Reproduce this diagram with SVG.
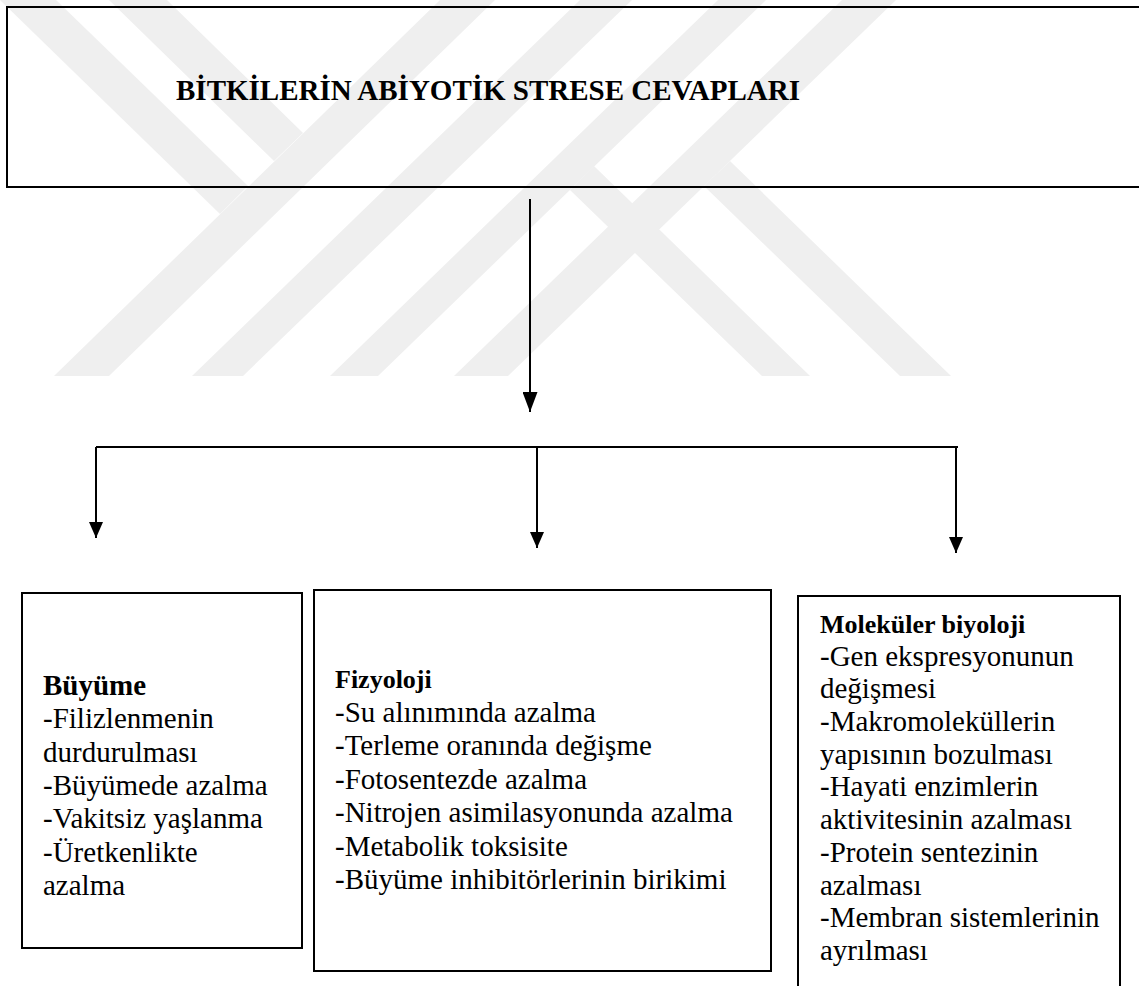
<svg xmlns="http://www.w3.org/2000/svg" width="1139" height="986" viewBox="0 0 1139 986">
<defs>
<style>
.wm{fill:#efefef;stroke:none}
.box{fill:none;stroke:#000;stroke-width:2}
.ln{stroke:#000;stroke-width:2;fill:none}
.t{font-family:"Liberation Serif","Times New Roman",serif;font-size:29px;fill:#000}
.b{font-weight:bold}
.h{font-family:"Liberation Serif","Times New Roman",serif;font-size:26px;font-weight:bold;fill:#000}
</style>
<marker id="ah" markerWidth="16" markerHeight="14" refX="16" refY="7" orient="auto" markerUnits="userSpaceOnUse" viewBox="0 0 16 14">
<path d="M0,0 L16,7 L0,14 Z" fill="#000"/>
</marker>
<marker id="ah2" markerWidth="20" markerHeight="15" refX="20" refY="7.5" orient="auto" markerUnits="userSpaceOnUse" viewBox="0 0 20 15">
<path d="M0,0 L20,7.5 L0,15 Z" fill="#000"/>
</marker>
</defs>
<rect width="1139" height="986" fill="#fff"/>
<g id="watermark">
<polygon class="wm" points="440,0 495,0 109,376 54,376"/>
<polygon class="wm" points="580,0 632,0 243,376 192,376"/>
<polygon class="wm" points="718,0 766,0 378,376 330,376"/>
<polygon class="wm" points="842,0 896,0 508,376 454,376"/>
<polygon class="wm" points="0,0 56,0 248,186 220,214"/>
<polygon class="wm" points="109,0 167,0 303,133 274,161"/>
<polygon class="wm" points="570,190 594,166 810,376 762,376"/>
<polygon class="wm" points="704,186 730,161 951,376 900,376"/>
</g>
<g id="title">
<rect class="box" x="7" y="7" width="1150" height="180" stroke-width="2.5"/>
<text class="t b" x="176" y="100">BİTKİLERİN ABİYOTİK STRESE CEVAPLARI</text>
</g>
<g id="connectors">
<line class="ln" x1="530" y1="199" x2="530" y2="412" marker-end="url(#ah2)"/>
<line class="ln" x1="96" y1="447" x2="958" y2="447"/>
<line class="ln" x1="96" y1="447" x2="96" y2="538" marker-end="url(#ah)"/>
<line class="ln" x1="537" y1="447" x2="537" y2="548" marker-end="url(#ah)"/>
<line class="ln" x1="956" y1="447" x2="956" y2="553" marker-end="url(#ah)"/>
</g>
<g id="buyume">
<rect class="box" x="22" y="593" width="280" height="355"/>
<text class="t b" x="43" y="695">Büyüme</text>
<text class="t" x="43" y="728">-Filizlenmenin</text>
<text class="t" x="43" y="762">durdurulması</text>
<text class="t" x="43" y="795">-Büyümede azalma</text>
<text class="t" x="43" y="828">-Vakitsiz yaşlanma</text>
<text class="t" x="43" y="862">-Üretkenlikte</text>
<text class="t" x="43" y="895">azalma</text>
</g>
<g id="fizyoloji">
<rect class="box" x="314" y="590" width="457" height="381"/>
<text class="h" x="335" y="688">Fizyoloji</text>
<text class="t" x="335" y="722">-Su alınımında azalma</text>
<text class="t" x="335" y="755">-Terleme oranında değişme</text>
<text class="t" x="335" y="789">-Fotosentezde azalma</text>
<text class="t" x="335" y="822">-Nitrojen asimilasyonunda azalma</text>
<text class="t" x="335" y="856">-Metabolik toksisite</text>
<text class="t" x="335" y="889">-Büyüme inhibitörlerinin birikimi</text>
</g>
<g id="molekuler">
<rect class="box" x="798" y="596" width="322" height="420"/>
<text class="h" x="820" y="633">Moleküler biyoloji</text>
<text class="t" x="820" y="666">-Gen ekspresyonunun</text>
<text class="t" x="820" y="698">değişmesi</text>
<text class="t" x="820" y="731">-Makromoleküllerin</text>
<text class="t" x="820" y="764">yapısının bozulması</text>
<text class="t" x="820" y="796">-Hayati enzimlerin</text>
<text class="t" x="820" y="829">aktivitesinin azalması</text>
<text class="t" x="820" y="862">-Protein sentezinin</text>
<text class="t" x="820" y="895">azalması</text>
<text class="t" x="820" y="927">-Membran sistemlerinin</text>
<text class="t" x="820" y="960">ayrılması</text>
</g>
</svg>
